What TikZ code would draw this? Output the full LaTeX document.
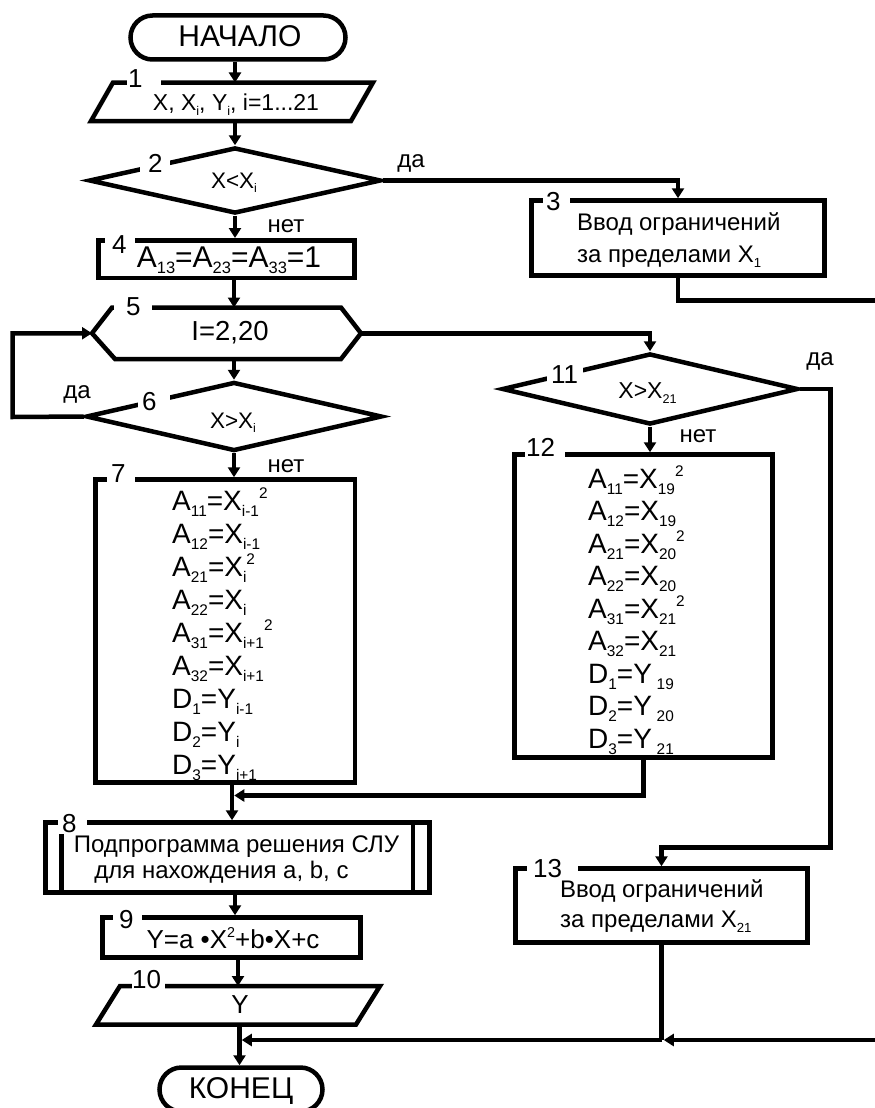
\documentclass[tikz,border=0pt]{standalone}
\usepackage{fontspec}
\setmainfont{Liberation Sans}
\usepackage{graphicx}
\usetikzlibrary{arrows.meta,shapes.geometric,shapes.misc}
% font size helper and small indices
\newcommand\fsz[1]{\fontsize{#1}{#1}\selectfont}
\newcommand\mysub[1]{\raisebox{-0.22em}{\scalebox{0.55}{#1}}}
\newcommand\mysup[1]{\raisebox{0.42em}{\scalebox{0.55}{#1}}}
% block number placed in a white gap of a given width
\newcommand\numlab[3]{\makebox[#1pt][l]{\hspace*{#2pt}#3}}

\begin{document}
\begin{tikzpicture}[x=1pt,y=-1pt,
  shp/.style={draw, line width=4.5pt, inner sep=0pt},
  proc/.style={shp, rectangle},
  dec/.style={shp, diamond},
  term/.style={shp, rounded rectangle},
  ghost/.style={rectangle, inner sep=0pt, outer sep=0pt},
  outline/.style={line width=4.5pt, line join=miter},
  conn/.style={line width=4.5pt},
  flow/.style={conn, -{Triangle[width=12pt,length=10pt]}},
  num/.style={fill=white, inner xsep=0pt, inner ysep=1.5pt, anchor=base west, font=\fsz{26}},
  txt/.style={inner sep=0pt, anchor=base},
  ltxt/.style={inner sep=0pt, anchor=base west},
]
\useasboundingbox (0,0) rectangle (875,1108);
\fill[white] (0,0) rectangle (875,1108);

% ---------- blocks ----------
\node[term, minimum width=215pt, minimum height=44pt] (start) at (238,37.5) {};
\node[ghost, minimum width=260pt, minimum height=38.5pt] (b1) at (232,101.75) {};
\draw[outline] ([xshift=11pt]b1.north west) -- ([xshift=11pt]b1.north east)
  -- ([xshift=-11pt]b1.south east) -- ([xshift=-11pt]b1.south west) -- cycle;
\node[dec, minimum width=292pt, minimum height=66pt] (d2) at (235,180.5) {};
\node[proc, minimum width=293pt, minimum height=75pt] (b3) at (678,238) {};
\node[proc, minimum width=256pt, minimum height=37.5pt] (b4) at (226.5,259) {};
\node[ghost, minimum width=269pt, minimum height=51.5pt] (b5) at (226.5,333.25) {};
\draw[outline] (b5.west) -- ([xshift=20pt]b5.north west) -- ([xshift=-20pt]b5.north east)
  -- (b5.east) -- ([xshift=-20pt]b5.south east) -- ([xshift=23pt]b5.south west) -- cycle;
\node[dec, minimum width=296pt, minimum height=69pt] (d6) at (234,416.5) {};
\node[proc, minimum width=259.5pt, minimum height=303pt] (b7) at (225.25,631) {};
\node[dec, minimum width=296pt, minimum height=71pt] (d11) at (650,389) {};
\node[proc, minimum width=258pt, minimum height=303pt] (b12) at (643.5,606) {};
\node[proc, minimum width=384pt, minimum height=70pt] (b8) at (237.5,857.5) {};
\draw[outline] ([xshift=18pt]b8.north west) -- ([xshift=18pt]b8.south west);
\draw[outline] ([xshift=-19pt]b8.north east) -- ([xshift=-19pt]b8.south east);
\node[proc, minimum width=258pt, minimum height=40pt] (b9) at (231.5,937.5) {};
\node[ghost, minimum width=260pt, minimum height=38.5pt] (b10) at (238,1005.25) {};
\draw[outline] ([xshift=12pt]b10.north west) -- ([xshift=12pt]b10.north east)
  -- ([xshift=-12pt]b10.south east) -- ([xshift=-12pt]b10.south west) -- cycle;
\node[proc, minimum width=292pt, minimum height=74pt] (b13) at (661.5,905.5) {};
\node[term, minimum width=163pt, minimum height=44pt] (end) at (241,1089.5) {};

% ---------- junctions and bends ----------
\coordinate (j1) at (232,795.5);
\coordinate (j2) at (239.5,1040);
\coordinate (lp) at (12.5,417);
\coordinate (rt) at (830.5,847.5);
\coordinate (edgeA) at (877,300.5);
\coordinate (edgeB) at (877,1040);

% ---------- connectors ----------
\draw[flow] (start.south -| d2.north) -- (b1.north -| d2.north);
\draw[flow] (b1.south -| d2.north) -- (d2.north);
\draw[flow] (d2.east) -| (b3.north);
\draw[flow] (d2.south) -- (d2.south |- b4.north);
\draw[conn] (b3.south) |- (edgeA);
\draw[flow] (b4.south -| d6.north) -- (b5.north -| d6.north);
\draw[flow] (b5.east) -| (d11.north);
\draw[flow] (b5.south -| d6.north) -- (d6.north);
\draw[flow] (d6.west) -- (lp) |- (b5.west);
\draw[flow] (d6.south) -- (d6.south |- b7.north);
\draw[flow] (d11.south) -- (d11.south |- b12.north);
\draw[flow] (d11.east) -| (rt) -| (b13.north);
\draw[conn] (b7.south -| j1) -- (j1);
\draw[flow, shorten >=2.25pt] (b12.south) |- (j1);
\draw[flow] (j1) -- (b8.north -| j1);
\draw[flow] (b8.south -| d2.north) -- (b9.north -| d2.north);
\draw[flow] (b9.south -| b10.north) -- (b10.north);
\draw[conn] (b13.south) -- (b13.south |- edgeB);
\draw[flow, shorten >=2.25pt] (edgeB) -- (b13.south |- edgeB);
\draw[flow, shorten >=2.25pt] (b13.south |- edgeB) -- (j2);
\draw[conn] (b10.south -| j2) -- (j2);
\draw[flow] (j2) -- (end.north -| j2);

% ---------- block numbers ----------
\node[num] (n1) at (127,87) {\numlab{34}{1}{1}};
\node[num] (n2) at (140,172) {\numlab{30}{8}{2}};
\node[num] (n3) at (543,210) {\numlab{27}{3}{3}};
\node[num] (n4) at (105,253) {\numlab{30}{7}{4}};
\node[num] (n5) at (114,315) {\numlab{38}{12}{5}};
\node[num] (n6) at (138,410) {\numlab{32}{4}{6}};
\node[num] (n7) at (107,482) {\numlab{28}{4}{7}};
\node[num] (n8) at (58,832) {\numlab{29}{4}{8}};
\node[num] (n9) at (113,928) {\numlab{29}{6}{9}};
\node[num] (n10) at (132,988) {\numlab{33}{0}{10}};
\node[num] (n11) at (547,383) {\numlab{36}{4}{11}};
\node[num] (n12) at (525,456) {\numlab{40}{1}{12}};
\node[num] (n13) at (527,877) {\numlab{51}{6}{13}};

% ---------- texts ----------
\node[txt, font=\fsz{30}] (tstart) at (240,47) {НАЧАЛО};
\node[txt, font=\fsz{23}] (t1) at (236,110) {X, X\mysub{i}, Y\mysub{i}, i=1...21};
\node[txt, font=\fsz{22.5}] (t2) at (234,188) {X<X\mysub{i}};
\node[txt, font=\fsz{24}] (y2) at (411,167) {да};
\node[txt, font=\fsz{24}] (no2) at (286,232) {нет};
\node[ltxt, font=\fsz{24}] (t3a) at (577,230) {Ввод ограничений};
\node[ltxt, font=\fsz{24}] (t3b) at (577,262) {за пределами X\mysub{1}};
\node[txt, font=\fsz{30}] (t4) at (229,267) {A\mysub{13}=A\mysub{23}=A\mysub{33}=1};
\node[txt, font=\fsz{27.5}] (t5) at (230,340) {I=2,20};
\node[txt, font=\fsz{22.5}] (t6) at (233,428) {X>X\mysub{i}};
\node[txt, font=\fsz{24}] (y6) at (77,398) {да};
\node[txt, font=\fsz{24}] (no6) at (286,472) {нет};
\node[txt, font=\fsz{23}] (t11) at (647.5,398) {X>X\mysub{21}};
\node[txt, font=\fsz{24}] (y11) at (820,365) {да};
\node[txt, font=\fsz{24}] (no11) at (698,442) {нет};
\foreach \t [count=\k from 0] in {A\mysub{11}=X\mysub{i-1}\mysup{2}, A\mysub{12}=X\mysub{i-1},
    A\mysub{21}=X\mysub{i}\mysup{2}, A\mysub{22}=X\mysub{i}, A\mysub{31}=X\mysub{i+1}\mysup{2},
    A\mysub{32}=X\mysub{i+1}, D\mysub{1}=Y\mysub{i-1}, D\mysub{2}=Y\mysub{i}, D\mysub{3}=Y\mysub{i+1}}
  \node[ltxt, font=\fsz{28}, name=r7-\k] at (172,{510+33.1*\k}) {\t};
\foreach \t [count=\k from 0] in {A\mysub{11}=X\mysub{19}\mysup{2}, A\mysub{12}=X\mysub{19},
    A\mysub{21}=X\mysub{20}\mysup{2}, A\mysub{22}=X\mysub{20}, A\mysub{31}=X\mysub{21}\mysup{2},
    A\mysub{32}=X\mysub{21}, D\mysub{1}=Y\,\mysub{19}, D\mysub{2}=Y\,\mysub{20}, D\mysub{3}=Y\,\mysub{21}}
  \node[ltxt, font=\fsz{28}, name=r12-\k] at (588,{488+32.5*\k}) {\t};
\node[txt, font=\fsz{24}] (t8a) at (236.5,852) {Подпрограмма решения СЛУ};
\node[txt, font=\fsz{24}] (t8b) at (221.5,878) {для нахождения a, b, c};
\node[txt, font=\fsz{26}] (t9) at (233,948) {Y=a •X\mysup{2}+b•X+c};
\node[txt, font=\fsz{26}] (t10) at (240,1013) {Y};
\node[ltxt, font=\fsz{24}] (t13a) at (560,897) {Ввод ограничений};
\node[ltxt, font=\fsz{24}] (t13b) at (560,927) {за пределами X\mysub{21}};
\node[txt, font=\fsz{30}] (tend) at (241,1098) {КОНЕЦ};
\end{tikzpicture}
\end{document}
